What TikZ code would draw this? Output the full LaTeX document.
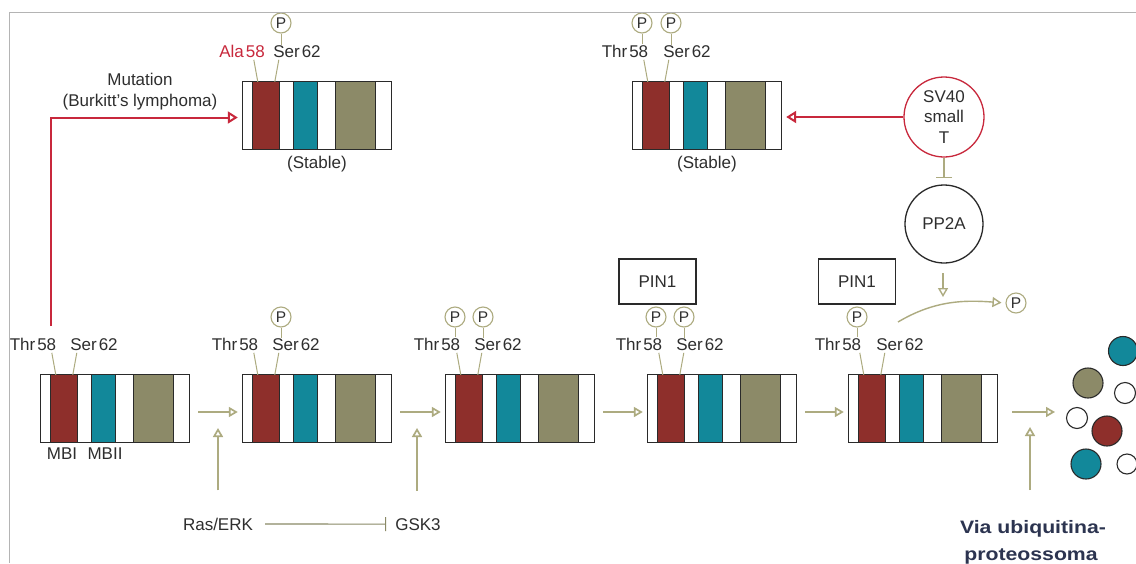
\documentclass[tikz,border=0pt]{standalone}
\usepackage{fontspec}
\setmainfont{Liberation Sans}
\usetikzlibrary{arrows.meta,calc}
\definecolor{myred}{HTML}{8E2F2B}
\definecolor{myteal}{HTML}{12889A}
\definecolor{myolive}{HTML}{8C8A68}
\definecolor{lineol}{HTML}{ADAB80}
\definecolor{arrred}{HTML}{C8283C}
\definecolor{txt}{HTML}{2E2E2E}
\definecolor{navytxt}{HTML}{2C3450}
\definecolor{framegray}{HTML}{B4B4B4}
\definecolor{edge}{HTML}{2A2A2A}

\newcommand\mycbox[3]{%
  \node[pbox] (#1) at ({#2+74},{#3+33.5}) {};
  \filldraw[fill=myred, draw=edge, line width=0.7pt] ([xshift=10pt]#1.north west) rectangle ([xshift=37pt]#1.south west);
  \filldraw[fill=myteal, draw=edge, line width=0.7pt] ([xshift=51pt]#1.north west) rectangle ([xshift=75pt]#1.south west);
  \filldraw[fill=myolive, draw=edge, line width=0.7pt] ([xshift=93pt]#1.north west) rectangle ([xshift=133pt]#1.south west);
  \draw[boxline] (#1.north west) rectangle (#1.south east);
  \draw[lead] ([shift={(11pt,22pt)}]#1.north west) -- ([xshift=15pt]#1.north west);
  \draw[lead] ([shift={(36pt,22pt)}]#1.north west) -- ([xshift=32pt]#1.north west);
}

\begin{document}
\begin{tikzpicture}[x=1pt,y=-1pt,
  lbl/.style={font=\fontsize{17}{20}\selectfont, text=txt, inner sep=0pt, anchor=base},
  pcirc/.style={circle, draw=lineol, line width=1.1pt, fill=white, minimum size=20pt, inner sep=0pt, font=\fontsize{15.5}{15}\selectfont, text=txt},
  lead/.style={draw=lineol, line width=1pt},
  pbox/.style={rectangle, minimum width=148pt, minimum height=67pt, inner sep=0pt, fill=white},
  boxline/.style={draw=edge, line width=1.2pt},
  flow/.style={draw=lineol, line width=1.7pt, -{Triangle[length=9pt,width=10pt,fill=white]}},
  redarr/.style={draw=arrred, line width=2pt, -{Triangle[length=10pt,width=12pt,fill=white]}},
  frame/.style={draw=framegray, line width=1pt},
  pinbox/.style={rectangle, draw=edge, line width=1.1pt, minimum width=77pt, minimum height=45pt, inner sep=0pt, font=\fontsize{17}{20}\selectfont, text=txt},
  frag/.style={circle, inner sep=0pt, line width=1.1pt, draw=edge}
]
\useasboundingbox[fill=white] (0,0) rectangle (1136,563);

% protein boxes
\mycbox{A}{243}{82}
\mycbox{B}{633}{82}
\mycbox{b1}{41}{375}
\mycbox{b2}{243}{375}
\mycbox{b3}{446}{375}
\mycbox{b4}{648}{375}
\mycbox{b5}{849}{375}

% top row labels
\node[lbl, text=arrred] (At) at (242,57) {Ala\kern2pt 58};
\node[lbl] (As) at (297,57) {Ser\kern2pt 62};
\node[pcirc] (Ap) at (281,23) {P};
\draw[lead] (Ap) -- (Ap |- As.north);
\node[lbl] at (317,168) {(Stable)};

\node[lbl] (Bt) at (625,57) {Thr\kern2pt 58};
\node[lbl] (Bs) at (687,57) {Ser\kern2pt 62};
\node[pcirc] (Bp1) at (642,23) {P};
\node[pcirc] (Bp2) at (671,23) {P};
\draw[lead] (Bp1) -- (Bp1 |- Bt.north);
\draw[lead] (Bp2) -- (Bp2 |- Bs.north);
\node[lbl] at (707,168) {(Stable)};

\node[lbl] at (140,85) {Mutation};
\node[lbl] at (140,106) {(Burkitt’s lymphoma)};

% bottom row labels
\node[lbl] (b1t) at (33,350) {Thr\kern2pt 58};
\node[lbl] (b1s) at (94,350) {Ser\kern2pt 62};
\node[lbl] at (62,459) {MBI};
\node[lbl] at (105,459) {MBII};

\node[lbl] (b2t) at (235,350) {Thr\kern2pt 58};
\node[lbl] (b2s) at (296,350) {Ser\kern2pt 62};
\node[pcirc] (b2p) at (281,317) {P};
\draw[lead] (b2p) -- (b2p |- b2s.north);

\node[lbl] (b3t) at (437,350) {Thr\kern2pt 58};
\node[lbl] (b3s) at (498,350) {Ser\kern2pt 62};
\node[pcirc] (b3p1) at (455,317) {P};
\node[pcirc] (b3p2) at (483,317) {P};
\draw[lead] (b3p1) -- (b3p1 |- b3t.north);
\draw[lead] (b3p2) -- (b3p2 |- b3s.north);

\node[lbl] (b4t) at (639,350) {Thr\kern2pt 58};
\node[lbl] (b4s) at (700,350) {Ser\kern2pt 62};
\node[pcirc] (b4p1) at (656,317) {P};
\node[pcirc] (b4p2) at (684,317) {P};
\draw[lead] (b4p1) -- (b4p1 |- b4t.north);
\draw[lead] (b4p2) -- (b4p2 |- b4s.north);
\node[pinbox] (pin4) at (657.5,281.5) {PIN1};

\node[lbl] (b5t) at (838,350) {Thr\kern2pt 58};
\node[lbl] (b5s) at (900,350) {Ser\kern2pt 62};
\node[pcirc] (b5p) at (857,317) {P};
\draw[lead] (b5p) -- (b5p |- b5t.north);
\node[pinbox] (pin5) at (857,281.5) {PIN1};

% frame (drawn over the first label, as in the reference)
\fill[white] (0,0) rectangle (9,563);
\draw[frame] (9,563) -- (9,12) -- (1136,12);

% SV40 and PP2A
\node[circle, draw=arrred, line width=1.3pt, minimum size=80pt, inner sep=0pt, align=center,
      font=\fontsize{17}{20.5}\selectfont, text=txt] (sv) at (944,117) {SV40\\small\\T};
\node[circle, draw=edge, line width=1.3pt, minimum size=78pt, inner sep=0pt,
      font=\fontsize{17}{20}\selectfont, text=txt] (pp) at (944,224) {PP2A};

% red arrows
\coordinate (mstart) at (51,326);
\draw[redarr] (mstart) |- ([xshift=-5pt,yshift=-2pt]A.west);
\draw[redarr] (sv.west) -- ([xshift=5pt]sv.west -| B.east);

% inhibition SV40 -| PP2A
\draw[draw=lineol, line width=1.3pt, -{Bar[width=16pt,line width=1.3pt]}, shorten >=6pt] (sv.south) -- (pp.north);

% PP2A dephosphorylation
\coordinate (ppa) at (943,273);
\coordinate (ppb) at (943,297);
\draw[flow, line width=1.4pt] (ppa) -- (ppb);
\coordinate (cstart) at (898,322);
\node[pcirc] (pfree) at (1016,303) {P};
\draw[flow, line width=1.4pt, shorten >=4pt] (cstart) .. controls (935,300) and (965,300) .. (pfree.west);

% flow arrows between boxes
\draw[flow] ([shift={(9pt,-3.5pt)}]b1.east) -- ([shift={(-5pt,-3.5pt)}]b2.west);
\draw[flow] ([shift={(9pt,-3.5pt)}]b2.east) -- ([shift={(-5pt,-3.5pt)}]b3.west);
\draw[flow] ([shift={(9pt,-3.5pt)}]b3.east) -- ([shift={(-5pt,-3.5pt)}]b4.west);
\draw[flow] ([shift={(9pt,-3.5pt)}]b4.east) -- ([shift={(-5pt,-3.5pt)}]b5.west);
\coordinate (deg) at (1055,412);
\draw[flow] ([shift={(15pt,-3.5pt)}]b5.east) -- (deg);

% regulators
\node[lbl] (ras) at (218,530) {Ras/ERK};
\node[lbl] (gsk) at (418,530) {GSK3};
\coordinate (u1) at (218,428);
\coordinate (u2) at (417,428);
\coordinate (u3) at (1030,427);
\draw[flow] ([yshift=27pt]ras.north -| u1) -- (u1);
\draw[flow] ([yshift=27pt]gsk.north -| u2) -- (u2);
\draw[draw=lineol!80!black, line width=1.1pt, -{Bar[width=14pt,line width=1.1pt]}, shorten <=12pt, shorten >=9pt]
  (ras.east) -- (gsk.west);

% degradation pathway text
\node[anchor=base, inner sep=0pt, xscale=1.18, font=\fontsize{18}{20}\selectfont\bfseries, text=navytxt] (via1) at (1033,533) {Via ubiquitina-};
\node[anchor=base, inner sep=0pt, xscale=1.18, font=\fontsize{18}{20}\selectfont\bfseries, text=navytxt] (via2) at (1031,560) {proteossoma};
\coordinate (u3s) at (1030,490);
\draw[flow] (u3s) -- (u3);

% fragments
\node[frag, fill=myteal, minimum size=29pt] (f1) at (1123,351) {};
\node[frag, fill=myolive, minimum size=30pt] (f2) at (1088,383) {};
\node[frag, fill=white, minimum size=21pt] (f3) at (1125,393) {};
\node[frag, fill=white, minimum size=21pt] (f4) at (1077,418) {};
\node[frag, fill=myred, minimum size=30pt] (f5) at (1107,431) {};
\node[frag, fill=myteal, minimum size=30pt] (f6) at (1086,464) {};
\node[frag, fill=white, minimum size=20pt] (f7) at (1127,464) {};
\end{tikzpicture}
\end{document}
